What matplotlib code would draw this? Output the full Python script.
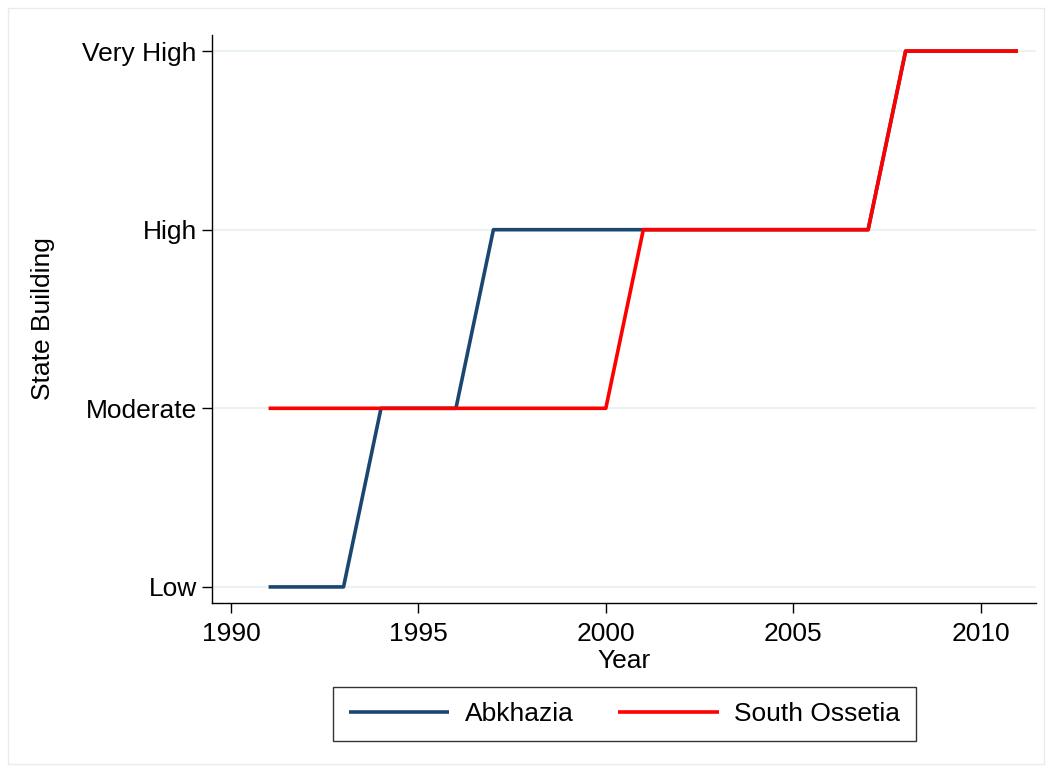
import matplotlib
matplotlib.use("Agg")
import matplotlib.pyplot as plt
from matplotlib.patches import Rectangle

years = list(range(1991, 2012))
abkhazia = [0, 0, 0, 1, 1, 1, 2, 2, 2, 2, 2, 2, 2, 2, 2, 2, 2, 3, 3, 3, 3]
south_ossetia = [1, 1, 1, 1, 1, 1, 1, 1, 1, 1, 2, 2, 2, 2, 2, 2, 2, 3, 3, 3, 3]
level_labels = ["Low", "Moderate", "High", "Very High"]
x_ticks = [1990, 1995, 2000, 2005, 2010]

plt.rcParams['font.family'] = ['Liberation Sans', 'DejaVu Sans']
FS = 19

fig = plt.figure(figsize=(10.52, 7.72), dpi=100)
fig.patches.append(Rectangle((8/1052, 8/772), 1036/1052, 756/772, transform=fig.transFigure,
                             fill=False, edgecolor='#e6edf0', linewidth=1.0))
ax = fig.add_axes([212/1052, 1-603/772, (1036-212)/1052, (603-35)/772])

ax.plot(years, abkhazia, color='#1a476f', linewidth=2.6, label='Abkhazia', solid_capstyle='butt')
ax.plot(years, south_ossetia, color='#ff0000', linewidth=2.6, label='South Ossetia', solid_capstyle='butt')

ax.set_xlim(1989.49, 2011.48)
ax.set_ylim(-0.09, 3.09)
ax.set_xticks(x_ticks)
ax.set_yticks(range(len(level_labels)))
ax.set_yticklabels(level_labels)
ax.yaxis.grid(True, color='#eaf2f3', linewidth=1.5)
ax.set_axisbelow(True)
for s in ['top', 'right']:
    ax.spines[s].set_visible(False)
for s in ['left', 'bottom']:
    ax.spines[s].set_linewidth(1.0)
ax.tick_params(axis='y', direction='out', length=7, width=1.0, labelsize=FS, pad=4)
ax.tick_params(axis='x', direction='out', length=7, width=1.0, labelsize=FS, pad=7)
ax.set_xlabel('Year', fontsize=FS, labelpad=2)
ax.set_ylabel('State Building', fontsize=FS, labelpad=20)

leg = fig.legend(loc='center', bbox_to_anchor=(624.5/1052, 1-714/772), ncol=2,
                 fontsize=FS, frameon=True, fancybox=False, edgecolor='black',
                 handlelength=3.8, handletextpad=0.6, columnspacing=1.7, borderpad=0.58)
leg.get_frame().set_linewidth(1.0)

fig.savefig('out.png', dpi=100)
